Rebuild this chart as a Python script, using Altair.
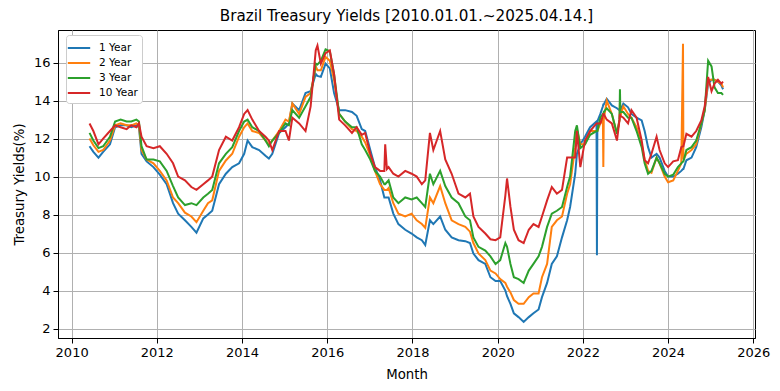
import altair as alt
import pandas as pd

# decimal-year sample points
years = [
    2010.42, 2010.51, 2010.63, 2010.74, 2010.90, 2011.02, 2011.15, 2011.29, 2011.40, 2011.52,
    2011.58, 2011.64, 2011.76, 2011.92, 2012.07, 2012.23, 2012.38, 2012.50, 2012.66, 2012.81,
    2012.93, 2013.09, 2013.20, 2013.30, 2013.46, 2013.62, 2013.77, 2013.93, 2014.05, 2014.13,
    2014.24, 2014.40, 2014.55, 2014.63, 2014.71, 2014.87, 2015.02, 2015.10, 2015.18, 2015.34,
    2015.49, 2015.61, 2015.73, 2015.77, 2015.85, 2015.96, 2016.06, 2016.16, 2016.28, 2016.42,
    2016.58, 2016.69, 2016.81, 2016.89, 2017.01, 2017.12, 2017.24, 2017.34, 2017.36, 2017.40,
    2017.44, 2017.55, 2017.67, 2017.83, 2017.98, 2018.10, 2018.22, 2018.30, 2018.41, 2018.49,
    2018.65, 2018.77, 2018.92, 2019.08, 2019.24, 2019.35, 2019.43, 2019.55, 2019.71, 2019.83,
    2019.95, 2020.06, 2020.18, 2020.22, 2020.30, 2020.38, 2020.49, 2020.61, 2020.73, 2020.84,
    2020.96, 2021.04, 2021.16, 2021.27, 2021.39, 2021.51, 2021.63, 2021.70, 2021.82, 2021.86,
    2021.94, 2022.05, 2022.17, 2022.32, 2022.33, 2022.34, 2022.41, 2022.47, 2022.48, 2022.49,
    2022.56, 2022.68, 2022.80, 2022.86, 2022.87, 2022.88, 2022.95, 2023.06, 2023.14, 2023.26,
    2023.38, 2023.45, 2023.53, 2023.61, 2023.73, 2023.80, 2023.92, 2024.00, 2024.12, 2024.23,
    2024.31, 2024.35, 2024.36, 2024.43, 2024.55, 2024.66, 2024.78, 2024.86, 2024.94, 2025.02,
    2025.09, 2025.17, 2025.25, 2025.29,
]

yield_1y = [
    11.6, 11.3, 11.0, 11.3, 11.7, 12.6, 12.7, 12.7, 12.6, 12.7,
    12.6, 11.2, 10.8, 10.5, 10.1, 9.6, 8.6, 8.05, 7.7, 7.35,
    7.05, 7.8, 8.0, 8.2, 9.6, 10.15, 10.5, 10.7, 11.2, 11.9,
    11.55, 11.4, 11.1, 10.95, 11.2, 12.3, 12.6, 12.8, 13.85, 13.5,
    14.4, 14.5, 15.4, 15.3, 15.25, 15.95, 15.7, 14.4, 13.5, 13.5,
    13.4, 13.2, 12.5, 12.4, 11.4, 10.5, 9.8, 8.9, 8.9, 8.9,
    8.9, 8.05, 7.5, 7.2, 7.0, 6.8, 6.65, 6.4, 7.7, 7.5,
    7.9, 7.2, 6.8, 6.65, 6.6, 6.5, 5.95, 5.6, 5.4, 4.7,
    4.5, 4.5, 4.0, 3.7, 3.3, 2.8, 2.6, 2.35, 2.6, 2.8,
    3.0, 3.65, 4.4, 5.4, 5.8, 6.8, 7.7, 8.4, 10.15, 11.2,
    11.7, 12.1, 12.6, 12.9, 5.86, 12.9, 13.3, 13.7, 13.8, 13.8,
    14.1, 13.75, 13.6, 13.5, 13.5, 13.5, 13.85, 13.65, 13.3, 13.1,
    12.96, 12.4, 11.55, 11.0, 11.2, 11.0, 10.3, 10.0, 10.0, 10.15,
    10.3, 10.4, 10.4, 10.86, 11.0, 11.55, 12.6, 13.5, 14.9, 15.1,
    15.1, 15.0, 14.8, 14.6,
]

yield_2y = [
    12.0, 11.65, 11.3, 11.4, 11.9, 12.7, 12.8, 12.7, 12.7, 12.8,
    12.7, 11.4, 10.9, 10.7, 10.3, 9.8, 8.9, 8.6, 8.1, 7.9,
    7.6, 8.2, 8.6, 8.75, 10.3, 10.85, 11.2, 12.1, 12.6, 12.8,
    12.4, 12.3, 11.9, 11.7, 11.9, 12.4, 13.0, 12.9, 13.85, 13.3,
    14.2, 14.4, 15.8, 15.6, 15.6, 16.3, 16.1, 15.1, 13.3, 12.9,
    12.5, 12.4, 12.1, 11.8, 11.1, 10.3, 9.6, 9.3, 9.3, 9.3,
    9.4, 8.6, 8.05, 7.9, 8.05, 7.7, 7.5, 7.3, 8.9, 8.6,
    9.5, 8.6, 7.7, 7.5, 7.35, 7.1, 6.5, 5.95, 5.6, 5.05,
    4.9, 4.6, 4.4, 4.2, 3.9, 3.5, 3.3, 3.3, 3.65, 3.85,
    3.85, 4.7, 5.4, 7.35, 7.7, 7.9, 9.1, 9.6, 11.55, 12.5,
    11.7, 11.7, 12.4, 12.4, 12.4, 12.4, 12.8, 13.0, 10.5, 13.0,
    14.0, 13.3, 12.25, 13.0, 13.9, 13.2, 13.7, 13.3, 13.1, 12.6,
    11.7, 10.9, 10.3, 10.2, 11.0, 10.7, 10.0, 9.7, 9.8, 10.3,
    10.7, 17.0, 10.9, 11.2, 11.4, 11.7, 12.8, 13.5, 15.1, 15.1,
    15.1, 15.0, 14.9, 14.7,
]

yield_3y = [
    12.3, 11.9, 11.5, 11.6, 12.1, 12.9, 13.0, 12.9, 12.9, 13.0,
    12.9, 11.6, 10.9, 10.9, 10.8, 10.3, 9.5, 8.9, 8.5, 8.6,
    8.5, 8.9, 9.1, 9.3, 10.7, 11.2, 11.55, 12.4, 12.9, 13.0,
    12.6, 12.4, 11.9, 11.6, 11.9, 12.3, 12.8, 12.7, 13.5, 13.1,
    13.7, 14.2, 15.95, 15.9, 16.1, 16.7, 16.6, 15.4, 13.3, 12.9,
    12.6, 12.6, 11.7, 11.4, 10.9, 10.3, 10.0, 9.6, 9.6, 9.7,
    9.8, 8.9, 8.6, 8.9, 8.8, 8.9, 8.6, 8.4, 10.15, 9.6,
    10.3, 9.5, 8.9, 8.6, 7.9, 7.7, 6.8, 6.3, 6.1, 5.8,
    5.4, 5.6, 6.5, 6.3, 5.4, 4.7, 4.6, 4.4, 5.05, 5.4,
    5.8, 6.3, 7.35, 8.05, 8.2, 8.4, 9.45, 10.0, 12.4, 12.7,
    11.5, 11.7, 12.2, 12.4, 12.4, 12.4, 13.1, 13.3, 13.3, 13.4,
    13.6, 13.3, 12.25, 13.0, 14.6, 13.4, 13.4, 13.1, 13.1, 12.4,
    11.55, 10.7, 10.15, 10.3, 11.0, 10.7, 10.15, 10.0, 10.1, 10.5,
    10.7, 10.8, 10.8, 11.4, 11.55, 11.9, 12.8, 13.5, 16.1, 15.8,
    14.7, 14.4, 14.4, 14.3,
]

yield_10y = [
    12.8, 12.4, 11.7, 12.0, 12.4, 12.7, 12.6, 12.5, 12.7, 12.6,
    12.8, 12.1, 11.6, 11.5, 11.6, 11.2, 10.7, 10.0, 9.8, 9.45,
    9.3, 9.6, 9.8, 10.0, 11.4, 12.1, 11.9, 12.6, 13.3, 13.5,
    13.0, 12.4, 12.1, 11.9, 11.4, 12.4, 12.4, 11.9, 13.1, 12.8,
    12.4, 13.7, 16.65, 16.9, 15.95, 16.5, 16.65, 15.4, 13.0, 12.7,
    12.3, 12.6, 12.2, 12.3, 11.2, 10.5, 10.3, 10.3, 11.7, 10.4,
    10.5, 10.15, 10.0, 10.3, 10.15, 10.0, 9.6, 9.8, 12.3, 11.4,
    12.4, 10.9, 10.15, 9.1, 8.9, 9.1, 7.9, 7.35, 7.0, 6.7,
    6.65, 6.8, 9.0, 9.9, 8.4, 7.2, 6.65, 6.5, 7.2, 7.5,
    7.35, 7.9, 8.75, 9.45, 9.1, 9.3, 11.0, 11.0, 11.0, 12.4,
    10.5, 11.9, 12.4, 12.8, 12.8, 12.8, 12.8, 13.2, 13.3, 13.3,
    13.0, 12.8, 11.9, 13.0, 13.3, 13.2, 13.1, 12.8, 13.5, 13.1,
    11.9, 10.86, 10.7, 11.2, 12.1, 11.4, 10.7, 10.5, 10.8, 10.86,
    11.55, 11.6, 11.6, 12.25, 12.1, 12.4, 12.96, 13.7, 15.25, 14.5,
    14.9, 15.1, 14.9, 15.0,
]

series_names = ["1 Year", "2 Year", "3 Year", "10 Year"]
series_colors = ["#1f77b4", "#ff7f0e", "#2ca02c", "#d62728"]
x_ticks = [2010, 2012, 2014, 2016, 2018, 2020, 2022, 2024, 2026]
y_ticks = [2, 4, 6, 8, 10, 12, 14, 16]

rows = []
for name, vals in zip(series_names, [yield_1y, yield_2y, yield_3y, yield_10y]):
    for t, v in zip(years, vals):
        rows.append({"t": t, "v": v, "s": name})
df = pd.DataFrame(rows)

FONT = "DejaVu Sans"

x_enc = alt.X(
    "t:Q",
    scale=alt.Scale(domain=[2009.68, 2026.04], nice=False, zero=False),
    axis=alt.Axis(values=x_ticks, format="d", title="Month"),
)
y_enc = alt.Y(
    "v:Q",
    scale=alt.Scale(domain=[1.5, 17.72], nice=False, zero=False),
    axis=alt.Axis(values=y_ticks, title="Treasury Yields(%)"),
)
color_enc = alt.Color(
    "s:N",
    scale=alt.Scale(domain=series_names, range=series_colors),
    legend=alt.Legend(
        title=None,
        orient="none",
        legendX=8,
        legendY=5,
        symbolType="M-1.4,0H1.4",
        symbolStrokeWidth=2,
        symbolSize=256,
        symbolFillColor="transparent",
        labelFontSize=10.5,
        labelFont=FONT,
        labelColor="black",
        fillColor="white",
        strokeColor="#cccccc",
        padding=4,
        cornerRadius=3,
        rowPadding=0,
        labelOffset=11,
    ),
)

layers = []
for name in series_names:
    layers.append(
        alt.Chart(df)
        .transform_filter(alt.datum.s == name)
        .mark_line(strokeWidth=2, clip=True)
        .encode(x=x_enc, y=y_enc, color=color_enc, order=alt.Order("t:Q"))
    )

chart = (
    alt.layer(*layers)
    .properties(
        width=697,
        height=308,
        title=alt.TitleParams(
            "Brazil Treasury Yields [2010.01.01.~2025.04.14.]",
            fontSize=15.2,
            fontWeight="normal",
            font=FONT,
            color="black",
            anchor="middle",
            offset=6,
        ),
        autosize=alt.AutoSizeParams(type="none"),
        padding={"left": 50, "top": 22, "right": 17, "bottom": 45},
    )
    .configure_view(stroke="black", strokeWidth=1)
    .configure_axis(
        labelFont=FONT,
        titleFont=FONT,
        labelFontSize=13,
        titleFontSize=13.3,
        titleFontWeight="normal",
        labelColor="black",
        titleColor="black",
        domainColor="black",
        tickColor="black",
        tickSize=5,
        labelPadding=3,
        grid=True,
        gridColor="#b0b0b0",
        gridWidth=1,
    )
    .configure_axisX(titlePadding=8)
    .configure_axisY(titlePadding=7)
)

chart.save("out.html", embed_options={"renderer": "svg", "actions": False})
